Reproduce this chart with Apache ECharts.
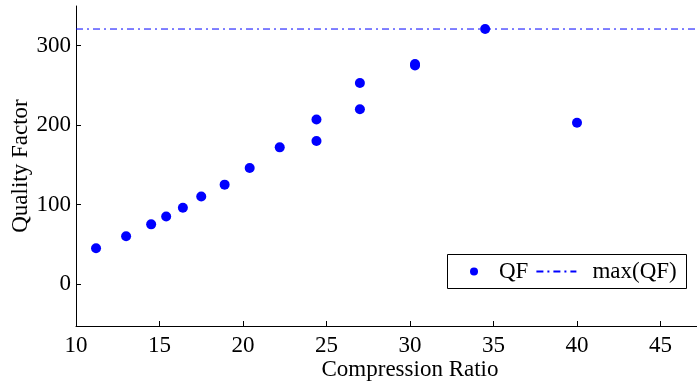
<!DOCTYPE html>
<html>
<head>
<meta charset="utf-8">
<script src="https://cdn.jsdelivr.net/npm/echarts@6/dist/echarts.min.js"></script>
<style>
  html, body { margin: 0; padding: 0; background: #fff; overflow: hidden; }
  /* the axes run past the right edge of the picture, as in the original */
  #main { width: 744px; height: 387px; }
</style>
</head>
<body>
<div id="main"></div>
<script>
// compression ratio vs quality factor
var ratio = [11.2, 13.0, 14.5, 15.4, 16.4, 17.5, 18.9, 20.4, 22.2, 24.4, 24.4, 27.0, 27.0, 30.3, 30.3, 34.5, 40.0];
var qf    = [45, 60, 75, 85, 96, 110, 125, 146, 172, 207, 180, 253, 220, 275, 277, 321, 203];
var xTicks = [10, 15, 20, 25, 30, 35, 40, 45, 50];
var yTicks = [0, 100, 200, 300];
var xMin = 10, xMax = 50, yMin = -53, yMax = 350;

var maxQF = Math.max.apply(null, qf);
var points = ratio.map(function (r, i) { return [r, qf[i]]; });

var font = 'Liberation Serif';
var fs = 23;
var myChart = echarts.init(document.getElementById('main'));

var option = {
    animation: false,
    backgroundColor: '#fff',
    textStyle: { fontFamily: font },
    grid: {
        left: 76,
        right: 0,
        top: 6,
        bottom: 61,
        outerBoundsMode: 'none'
    },
    // legend frame drawn separately so the items can sit where they do in the original
    graphic: [{
        type: 'rect',
        left: 447,
        top: 254,
        shape: { width: 239, height: 34 },
        style: { fill: '#fff', stroke: '#000', lineWidth: 1 },
        z: 10
    }],
    legend: {
        left: 462,
        top: 254,
        orient: 'horizontal',
        padding: [6, 8, 5, 8],
        itemWidth: 40,
        itemHeight: 8,
        itemGap: 7,
        z: 20,
        formatter: function (name) {
            return name === 'max(QF)' ? '{gap|}' + name : name;
        },
        textStyle: {
            fontFamily: font, fontSize: fs, color: '#000',
            rich: { gap: { width: 11 } }
        },
        data: [
            { name: 'QF', icon: 'circle' },
            { name: 'max(QF)', itemStyle: { opacity: 0 } }
        ]
    },
    xAxis: {
        type: 'value',
        min: xMin,
        max: xMax,
        interval: 5,
        name: 'Compression Ratio',
        nameLocation: 'middle',
        nameGap: 32,
        nameMoveOverlap: false,
        nameTextStyle: { fontFamily: font, fontSize: fs, color: '#000' },
        axisLine: { show: true, onZero: false, lineStyle: { color: '#000', width: 1 } },
        axisTick: { show: true, inside: true, length: 5, lineStyle: { color: '#000' }, customValues: xTicks },
        axisLabel: { fontFamily: font, fontSize: fs, color: '#000', margin: 8, customValues: xTicks },
        splitLine: { show: false }
    },
    yAxis: {
        type: 'value',
        min: yMin,
        max: yMax,
        name: 'Quality Factor',
        nameLocation: 'middle',
        nameRotate: 90,
        nameGap: 44,
        nameMoveOverlap: false,
        nameTextStyle: { fontFamily: font, fontSize: fs, color: '#000' },
        axisLine: { show: true, onZero: false, lineStyle: { color: '#000', width: 1 } },
        axisTick: { show: true, inside: true, length: 5, lineStyle: { color: '#000' }, customValues: yTicks },
        axisLabel: { fontFamily: font, fontSize: fs, color: '#000', margin: 5, customValues: yTicks },
        splitLine: { show: false }
    },
    series: [
        {
            name: 'QF',
            type: 'scatter',
            symbol: 'circle',
            symbolSize: 10,
            itemStyle: { color: '#0000ff', opacity: 1 },
            data: points,
            z: 3
        },
        {
            name: 'max(QF)',
            type: 'line',
            symbol: 'none',
            lineStyle: { color: '#0000ff', width: 1, type: [7, 4, 2, 4] },
            itemStyle: { color: '#0000ff' },
            data: [[xMin, maxQF], [xMax, maxQF]],
            z: 2
        }
    ]
};

myChart.setOption(option);
</script>
</body>
</html>
